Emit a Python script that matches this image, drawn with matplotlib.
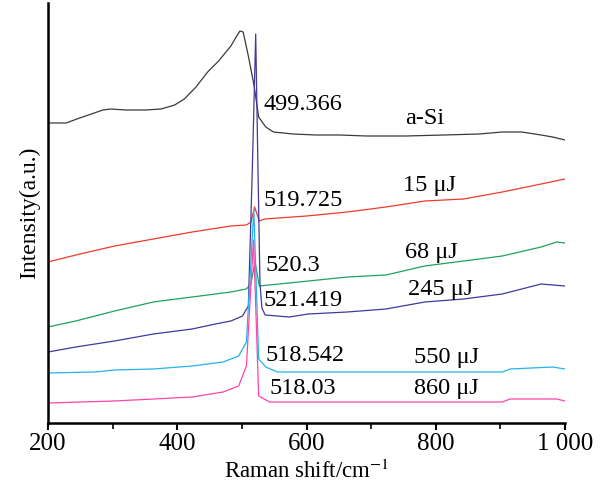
import numpy as np
import matplotlib
matplotlib.use("Agg")
import matplotlib.pyplot as plt

plt.rcParams["font.family"] = ["Liberation Serif", "DejaVu Serif"]
plt.rcParams["mathtext.fontset"] = "stix"

# spectra (x: Raman shift, y: stacked intensity, a.u.)
asi_x = [200, 228, 249, 267, 285, 297, 321, 351, 375, 396, 411, 429, 447, 464, 483, 492, 497, 502,
         510, 519, 526, 537, 549, 579, 615, 651, 693, 753, 813, 867, 903, 933, 963, 981, 1000]
asi_y = [300, 300, 305, 309, 313, 314, 313, 313, 314, 318, 324, 336, 351, 362, 377, 387, 392, 391,
         367, 337, 306, 296, 291, 289, 288, 288, 287, 287, 288, 289, 291, 291, 288, 286, 283]

uj15_x = [200, 243, 303, 363, 423, 483, 507, 514, 519.7, 527, 535, 600, 663, 723, 783, 843, 903, 963, 1000]
uj15_y = [161, 168, 177, 184, 191, 197, 198, 201, 216, 202, 204, 207, 211, 216, 222, 224, 231, 239, 244]

uj68_x = [200, 243, 303, 363, 423, 483, 507, 514, 520.3, 527, 603, 663, 723, 783, 843, 903, 963, 987, 1000]
uj68_y = [96, 102, 112, 121, 126, 131, 134, 139, 161, 137, 142, 146, 148, 157, 162, 167, 176, 181, 180]

uj245_x = [200, 243, 303, 363, 423, 459, 483, 501, 510, 516, 521.4, 525, 528, 531, 536, 573, 603,
           663, 723, 783, 843, 903, 933, 963, 1000]
uj245_y = [71, 76, 82, 89, 94, 99, 102, 107, 117, 250, 389, 250, 140, 115, 108, 106, 109,
           111, 114, 121, 124, 129, 134, 139, 137]

uj550_x = [200, 273, 303, 363, 423, 471, 495, 507, 518.5, 526, 537, 555, 903, 915, 981, 1000]
uj550_y = [50, 51, 53, 54, 57, 61, 67, 81, 213, 64, 56, 51, 51, 54, 56, 54]

uj860_x = [200, 303, 363, 423, 471, 495, 507, 518, 526, 543, 903, 915, 987, 1000]
uj860_y = [20, 22, 24, 26, 31, 37, 57, 183, 27, 21, 21, 24, 24, 22]

series = [
    (asi_x, asi_y, "#3a3a3a"),
    (uj15_x, uj15_y, "#ee3b2c"),
    (uj68_x, uj68_y, "#1fa25c"),
    (uj245_x, uj245_y, "#3f3a9c"),
    (uj550_x, uj550_y, "#22b3ea"),
    (uj860_x, uj860_y, "#ff45a8"),
]

# labels: text, x, y
peak_labels = [("499.366", 534, 319), ("519.725", 533, 223), ("520.3", 537, 158),
               ("521.419", 534, 123), ("518.542", 537, 68), ("518.03", 542, 35)]
name_labels = [("a-Si", 752, 305), ("15 μJ", 750, 238), ("68 μJ", 753, 171),
               ("245 μJ", 757, 134), ("550 μJ", 767, 66), ("860 μJ", 767, 35)]

xticks = [200, 400, 600, 800, 1000]
xticklabels = ["200", "400", "600", "800", "1 000"]

fig = plt.figure(figsize=(6.06, 4.90), dpi=100)
ax = fig.add_axes([48 / 606, 67 / 490, 517 / 606, 420 / 490])

for x, y, c in series:
    ax.plot(x, y, color=c, lw=0.9)

for t, x, y in peak_labels + name_labels:
    ax.text(x, y, t, fontsize=17.5, va="center", ha="left")

ax.set_xlim(200, 1000)
ax.set_ylim(0, 420)
ax.set_xticks(xticks)
ax.set_xticklabels(xticklabels)
ax.set_xticks(np.arange(300, 1000, 200), minor=True)
ax.set_yticks([])
ax.tick_params(axis="x", which="major", direction="out", length=5, width=1.5, labelsize=18, pad=2)
ax.tick_params(axis="x", which="minor", direction="out", length=4, width=1.2)
for s in ["top", "right"]:
    ax.spines[s].set_visible(False)
for s in ["left", "bottom"]:
    ax.spines[s].set_linewidth(1.8)

ax.set_xlabel("Raman shift/cm$^{-1}$", fontsize=16.5, labelpad=4)
ax.set_ylabel("Intensity(a.u.)", fontsize=17, labelpad=6)

fig.savefig("out.png", dpi=100)
